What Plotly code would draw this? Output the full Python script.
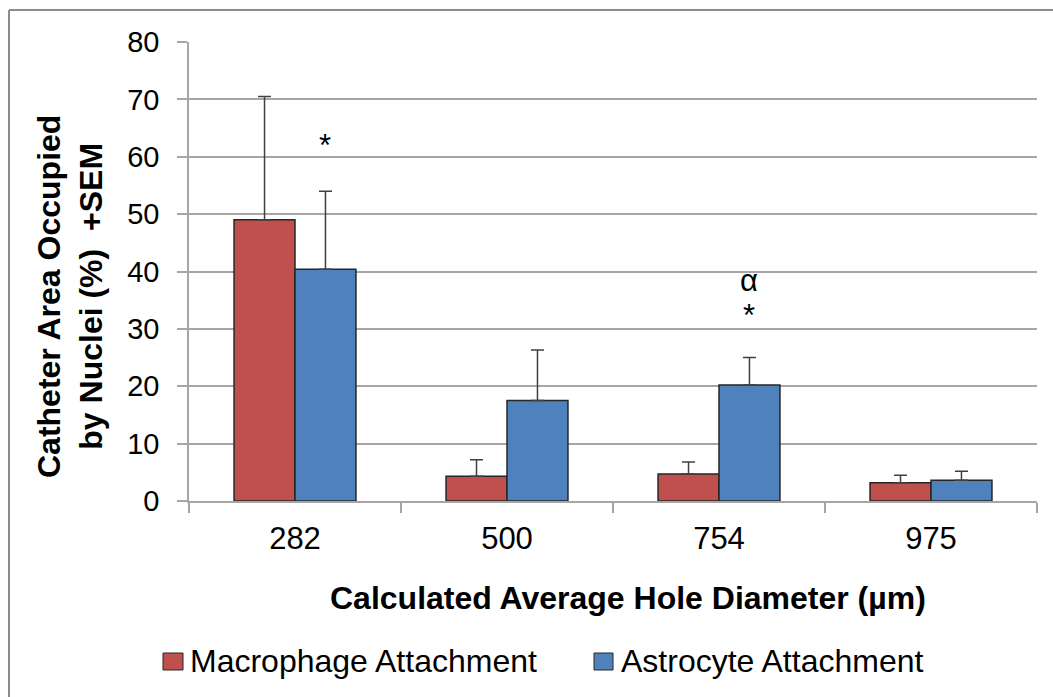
import plotly.graph_objects as go

# Hole diameter groups and attachment measurements (% area, mean and +SEM)
diameters = ["282", "500", "754", "975"]
macrophage_mean = [49.0, 4.3, 4.7, 3.2]
macrophage_sem = [21.5, 2.9, 2.1, 1.3]
astrocyte_mean = [40.4, 17.5, 20.2, 3.6]
astrocyte_sem = [13.6, 8.8, 4.8, 1.6]
series_names = ["Macrophage Attachment", "Astrocyte Attachment"]

# Significance markers: (group index, y value, symbol)
sig_marks = [(0, 62.0, "*"), (2, 32.4, "*"), (2, 38.4, "α")]

RED = "#C0504D"
BLUE = "#4F81BD"
GRID = "#A6A6A6"
FONT = "Liberation Sans, Arial, sans-serif"
BARGAP = 0.425

# plot-area geometry in pixels, used to place paper-referenced decorations
L, R, T, B = 189, 1037, 42, 501
W, H = 1053, 697


def px(x):
    return (x - L) / (R - L)


def py(y):
    return (B - y) / (B - T)


fig = go.Figure()
for name, mean, sem, col in [(series_names[0], macrophage_mean, macrophage_sem, RED),
                             (series_names[1], astrocyte_mean, astrocyte_sem, BLUE)]:
    fig.add_trace(go.Bar(
        name=name, x=diameters, y=mean,
        marker=dict(color=col, line=dict(color="#262626", width=1.5)),
        error_y=dict(type="data", array=sem, symmetric=False,
                     arrayminus=[0] * len(sem),
                     color="#404040", thickness=1.5, width=6.5),
    ))

# offset of the second bar centre within its group (category units)
blue_offset = (1 - BARGAP) / 4
for gi, yv, sym in sig_marks:
    fig.add_annotation(x=gi + blue_offset, y=yv, xref="x", yref="y",
                       text=sym, showarrow=False,
                       font=dict(family=FONT, size=31, color="#000000"),
                       yanchor="middle")

# axis titles
fig.add_annotation(x=px(70), y=py(296), xref="paper", yref="paper",
                   text="<b>Catheter Area Occupied<br>by Nuclei (%)  +SEM</b>",
                   textangle=-90, showarrow=False, xanchor="center", yanchor="middle",
                   font=dict(family=FONT, size=32, color="#000000"))
fig.add_annotation(x=px(628), y=py(598), xref="paper", yref="paper",
                   text="<b>Calculated Average Hole Diameter (µm)</b>",
                   showarrow=False, xanchor="center", yanchor="middle",
                   font=dict(family=FONT, size=32, color="#000000"))

# legend: colour key squares and labels
legend_items = [(series_names[0], RED, 163, 183, 188),
                (series_names[1], BLUE, 594, 613, 619)]
for name, col, x0, x1, tx in legend_items:
    fig.add_shape(type="rect", xref="paper", yref="paper",
                  x0=px(x0), x1=px(x1), y0=py(670), y1=py(653),
                  fillcolor=col, line=dict(color="#262626", width=1))
    fig.add_annotation(x=px(tx), y=py(661), xref="paper", yref="paper",
                       text=name, showarrow=False, xanchor="left", yanchor="middle",
                       font=dict(family=FONT, size=32, color="#000000"))

# chart-area frame (top and left edges)
fig.add_shape(type="line", xref="paper", yref="paper",
              x0=px(9), x1=px(W + 10), y0=py(10), y1=py(10),
              line=dict(color="#8C8C8C", width=2))
fig.add_shape(type="line", xref="paper", yref="paper",
              x0=px(9), x1=px(9), y0=py(10), y1=py(H + 10),
              line=dict(color="#8C8C8C", width=2))

fig.update_layout(
    width=W, height=H,
    margin=dict(l=L, r=W - R, t=T, b=H - B),
    paper_bgcolor="white", plot_bgcolor="white",
    barmode="group", bargap=BARGAP, bargroupgap=0,
    font=dict(family=FONT, color="#000000"),
    showlegend=False,
    xaxis=dict(
        type="category", tickson="boundaries", ticks="outside", ticklen=10,
        tickcolor=GRID, tickwidth=1.5,
        showline=True, linecolor=GRID, linewidth=1.5,
        showgrid=False,
        tickfont=dict(family=FONT, size=31),
        ticklabelstandoff=9,
    ),
    yaxis=dict(
        range=[0, 80], dtick=10, ticks="outside", ticklen=10,
        tickcolor=GRID, tickwidth=1.5,
        showline=True, linecolor=GRID, linewidth=1.5,
        showgrid=True, gridcolor=GRID, gridwidth=1.5,
        zeroline=False,
        tickfont=dict(family=FONT, size=29),
        ticklabelstandoff=12,
    ),
)

fig.write_html("out.html")
